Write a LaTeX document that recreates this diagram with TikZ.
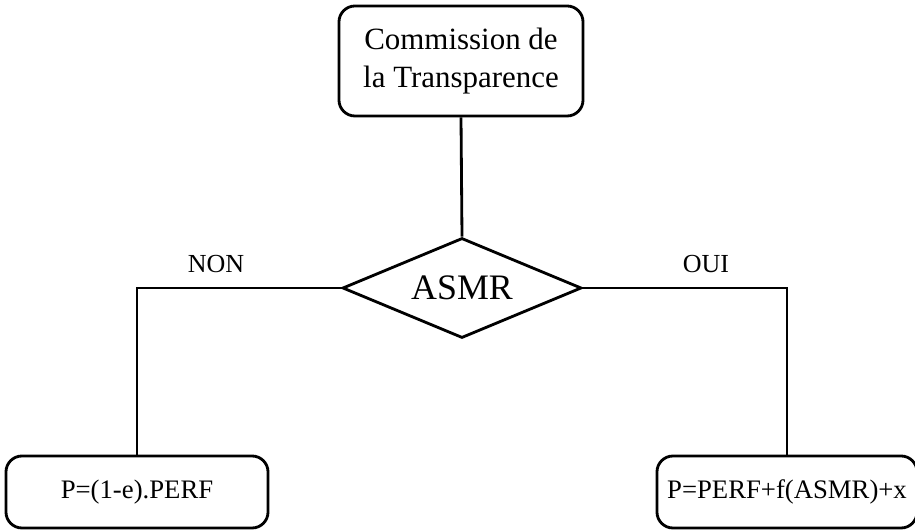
\documentclass[tikz,border=0pt]{standalone}
\usepackage{fontspec}
\setmainfont{Liberation Serif}
\usetikzlibrary{shapes.geometric}
\tikzset{
  boite/.style={draw, line width=2pt, rounded corners=0.4cm, inner sep=0pt, align=center},
  losange/.style={draw, diamond, aspect=2.4, line width=2pt, inner sep=0pt, minimum width=5.975cm, minimum height=2.5cm},
  lien/.style={line width=2pt}
}
\begin{document}
\begin{tikzpicture}[x=0.025cm, y=-0.025cm]
      \useasboundingbox (0, 0) rectangle (915, 530);
      % Commission
      \node[boite, minimum width=6.1cm, minimum height=2.75cm,
            font=\fontsize{22}{26.5}\selectfont] (commission) at (461, 61)
            {Commission de\\la Transparence};
      % Decision
      \node[losange, font=\fontsize{25.5}{30}\selectfont] (asmr) at (462, 288) {ASMR};
      % Prix
      \node[boite, minimum width=6.55cm, minimum height=1.8cm,
            font=\fontsize{19}{23}\selectfont] (prixnon) at (137, 492) {P=(1-e).PERF};
      \node[boite, minimum width=6.5cm, minimum height=1.8cm,
            font=\fontsize{19}{23}\selectfont] (prixoui) at (787, 492) {P=PERF+f(ASMR)+x};
      % Reponses
      \node[font=\fontsize{18.5}{22}\selectfont] (non) at (216, 264) {NON};
      \node[font=\fontsize{18.5}{22}\selectfont] (oui) at (706, 264) {OUI};
      % Liens
      \draw[lien] (commission.south) -- (asmr.north);
      \draw[lien] (asmr.west) -| (prixnon.north);
      \draw[lien] (asmr.east) -| (prixoui.north);
\end{tikzpicture}
\end{document}
